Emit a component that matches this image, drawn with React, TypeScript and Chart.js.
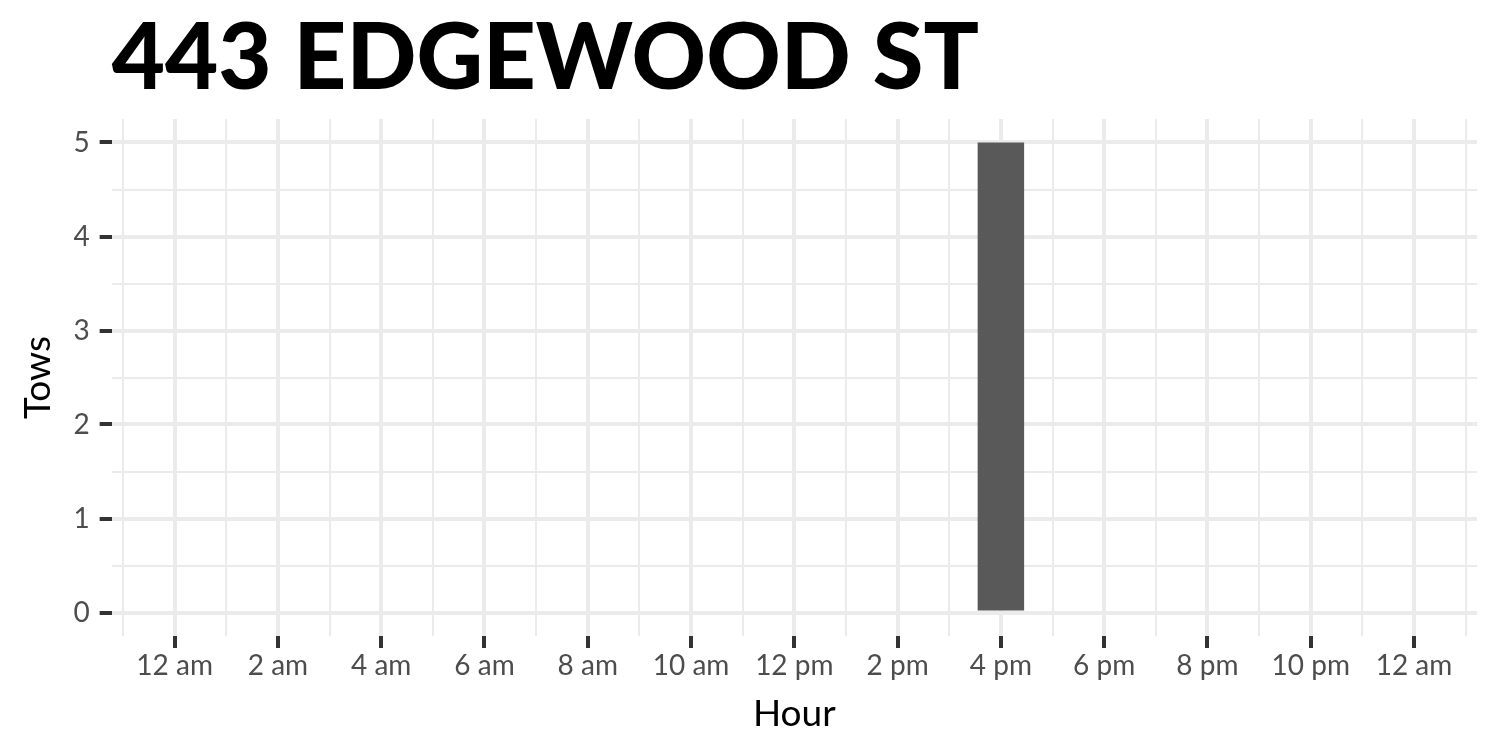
import React, { useEffect, useRef } from "react";
import { Chart, registerables } from "chart.js";

Chart.register(...registerables);

const chartTitle = "443 EDGEWOOD ST";
const xAxisTitle = "Hour";
const yAxisTitle = "Tows";

// Hours of the day (0 = 12 am) and number of tows per hour
const hours = [0, 1, 2, 3, 4, 5, 6, 7, 8, 9, 10, 11, 12, 13, 14, 15, 16, 17, 18, 19, 20, 21, 22, 23];
const tows = [0, 0, 0, 0, 0, 0, 0, 0, 0, 0, 0, 0, 0, 0, 0, 0, 5, 0, 0, 0, 0, 0, 0, 0];

// X-axis tick positions (hours) and labels
const xTickHours = [0, 2, 4, 6, 8, 10, 12, 14, 16, 18, 20, 22, 24];
const xTickLabels = ["12 am", "2 am", "4 am", "6 am", "8 am", "10 am", "12 pm", "2 pm", "4 pm", "6 pm", "8 pm", "10 pm", "12 am"];
const xGridHours = [-1, 0, 1, 2, 3, 4, 5, 6, 7, 8, 9, 10, 11, 12, 13, 14, 15, 16, 17, 18, 19, 20, 21, 22, 23, 24, 25];

// Y-axis ticks
const yTickValues = [0, 1, 2, 3, 4, 5];
const yGridValues = [0, 0.5, 1, 1.5, 2, 2.5, 3, 3.5, 4, 4.5, 5];

const xMin = -1.22;
const xMax = 25.22;
const yMin = -0.25;
const yMax = 5.25;

const FONT = "Lato, 'Open Sans', sans-serif";
const GRID = "#EBEBEB";
const TICK = "#333333";

export default function App() {
  const ref = useRef<HTMLCanvasElement | null>(null);

  useEffect(() => {
    if (!ref.current) return;
    const isMajorX = (v: number) => xTickHours.includes(v);
    const isMajorY = (v: number) => yTickValues.includes(v);

    const chart = new Chart(ref.current, {
      type: "bar",
      data: {
        datasets: [
          {
            data: hours.map((h, i) => ({ x: h, y: tows[i] })),
            backgroundColor: "#595959",
            borderWidth: 0,
            barPercentage: 0.9,
            categoryPercentage: 1,
          },
        ],
      },
      options: {
        animation: false,
        responsive: true,
        maintainAspectRatio: false,
        layout: { padding: { left: 11, right: 23, top: 4, bottom: 14 } },
        plugins: {
          legend: { display: false },
          tooltip: { enabled: false },
          title: {
            display: true,
            text: chartTitle,
            align: "start",
            fullSize: false,
            color: "#000000",
            font: { family: FONT, size: 92, weight: "900", lineHeight: 1 },
            padding: { top: 9.5, bottom: 13.5 },
          },
        },
        scales: {
          x: {
            type: "linear",
            min: xMin,
            max: xMax,
            offset: false,
            afterBuildTicks: (scale: any) => {
              scale.ticks = xGridHours.map((v) => ({ value: v }));
            },
            ticks: {
              autoSkip: false,
              maxRotation: 0,
              minRotation: 0,
              color: "#4D4D4D",
              padding: 1,
              font: { family: FONT, size: 28 },
              callback: (value: any) => {
                const idx = xTickHours.indexOf(Number(value));
                return idx >= 0 ? xTickLabels[idx] : "";
              },
            },
            grid: {
              offset: false,
              color: GRID,
              lineWidth: (ctx: any) => (isMajorX(ctx.tick?.value) ? 4 : 2),
              drawTicks: true,
              tickLength: 12,
              tickWidth: (ctx: any) => (isMajorX(ctx.tick?.value) ? 4 : 2),
              tickColor: (ctx: any) => (isMajorX(ctx.tick?.value) ? TICK : "rgba(0,0,0,0)"),
            },
            border: { display: false },
            title: {
              display: true,
              text: xAxisTitle,
              color: "#000000",
              font: { family: FONT, size: 37 },
              padding: { top: 8, bottom: 0 },
            },
          },
          y: {
            type: "linear",
            min: yMin,
            max: yMax,
            afterBuildTicks: (scale: any) => {
              scale.ticks = yGridValues.map((v) => ({ value: v }));
            },
            ticks: {
              autoSkip: false,
              color: "#4D4D4D",
              padding: 10,
              font: { family: FONT, size: 28 },
              callback: (value: any) => (isMajorY(Number(value)) ? String(value) : ""),
            },
            grid: {
              color: GRID,
              lineWidth: (ctx: any) => (isMajorY(ctx.tick?.value) ? 4 : 2),
              drawTicks: true,
              tickLength: 12,
              tickWidth: (ctx: any) => (isMajorY(ctx.tick?.value) ? 4 : 2),
              tickColor: (ctx: any) => (isMajorY(ctx.tick?.value) ? TICK : "rgba(0,0,0,0)"),
            },
            border: { display: false },
            title: {
              display: true,
              text: yAxisTitle,
              color: "#000000",
              font: { family: FONT, size: 37 },
              padding: { top: 5, bottom: 3 },
            },
          },
        },
      },
    });
    return () => chart.destroy();
  }, []);

  return (
    <div style={{ position: "fixed", left: 0, top: 0, width: 1500, height: 750, background: "#ffffff" }}>
      <canvas ref={ref} />
    </div>
  );
}
